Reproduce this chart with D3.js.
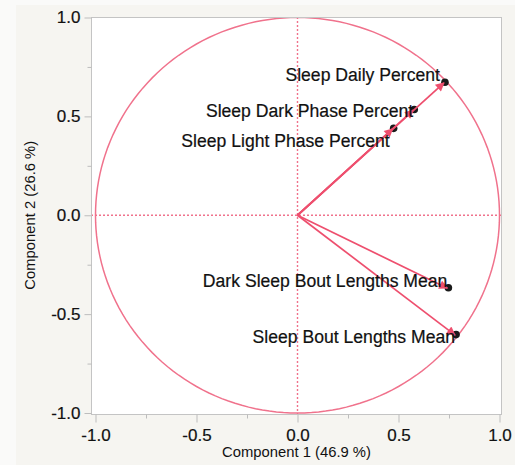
<!DOCTYPE html>
<html>
<head>
<meta charset="utf-8">
<script src="https://cdn.jsdelivr.net/npm/d3@7"></script>
<style>
  html, body { margin: 0; padding: 0; background: #f6f5f1; }
  svg { display: block; }
</style>
</head>
<body>
<script>
// Loading-plot data: variable names and their loadings on components 1 and 2
const variables = [
  "Sleep Daily Percent",
  "Sleep Dark Phase Percent",
  "Sleep Light Phase Percent",
  "Dark Sleep Bout Lengths Mean",
  "Sleep Bout Lengths Mean"
];
const comp1 = [0.725, 0.573, 0.471, 0.742, 0.780];
const comp2 = [0.670, 0.532, 0.437, -0.369, -0.606];

const majorTicks = [-1.0, -0.5, 0.0, 0.5, 1.0];
const minorTicks = [-0.75, -0.25, 0.25, 0.75];
const xTitle = "Component 1  (46.9 %)";
const yTitle = "Component 2  (26.6 %)";

// label anchor offsets (px) from each point: text end / baseline
const labelOffsets = [[-4, -2], [0, 7], [-3, 18], [0, -1.5], [0, 8]];

const W = 515, H = 465;
const frame = { left: 91, right: 501, top: 17, bottom: 414 };
const x = d3.scaleLinear().domain([-1, 1]).range([95.5, 499.5]);
const y = d3.scaleLinear().domain([-1, 1]).range([413, 17.5]);

const RED = "#ee4f6e";
const PINK = "#f0728c";
const FONT = "'Liberation Sans', Arial, Helvetica, sans-serif";
const fmt = d => d.toFixed(1);

const svg = d3.select("body").append("svg").attr("width", W).attr("height", H);

// page panels
svg.append("rect").attr("width", W).attr("height", H).attr("fill", "#f6f5f1");
svg.append("rect").attr("width", 16).attr("height", H).attr("fill", "#fafaf9");
svg.append("rect").attr("x", 16).attr("width", W - 16).attr("height", 5).attr("fill", "#fafaf9");

// plot frame
svg.append("rect")
  .attr("x", frame.left + 0.5).attr("y", frame.top + 0.5)
  .attr("width", frame.right - frame.left).attr("height", frame.bottom - frame.top)
  .attr("fill", "#ffffff").attr("stroke", "#c4c4c4").attr("stroke-width", 1);

svg.append("clipPath").attr("id", "plotclip").append("rect")
  .attr("x", frame.left + 1).attr("y", frame.top + 1)
  .attr("width", frame.right - frame.left - 1).attr("height", frame.bottom - frame.top - 1);

// axes
const xAxis = svg.append("g").attr("transform", `translate(0,${frame.bottom + 0.5})`)
  .call(d3.axisBottom(x).tickValues(majorTicks).tickFormat(fmt).tickSize(8).tickPadding(4));
const xMinor = svg.append("g").attr("transform", `translate(0,${frame.bottom + 0.5})`)
  .call(d3.axisBottom(x).tickValues(minorTicks).tickFormat("").tickSize(4));
const yAxis = svg.append("g").attr("transform", `translate(${frame.left + 0.5},0)`)
  .call(d3.axisLeft(y).tickValues(majorTicks).tickFormat(fmt).tickSize(7).tickPadding(4));
const yMinor = svg.append("g").attr("transform", `translate(${frame.left + 0.5},0)`)
  .call(d3.axisLeft(y).tickValues(minorTicks).tickFormat("").tickSize(4));

[xAxis, xMinor, yAxis, yMinor].forEach(g => {
  g.select(".domain").remove();
  g.selectAll(".tick line").attr("stroke", "#bdbdbd");
  g.selectAll("text").attr("fill", "#111").style("font-family", FONT).style("font-size", "17px")
    .attr("stroke", "#111").attr("stroke-width", 0.2);
});
xAxis.selectAll("text").attr("dy", "0.88em");

// axis titles
svg.append("text").attr("x", x(0) - 1).attr("y", 457).attr("text-anchor", "middle")
  .style("font-family", FONT).style("font-size", "14.8px").attr("fill", "#111").text(xTitle);
svg.append("text").attr("transform", `translate(35,${y(0)}) rotate(-90)`).attr("text-anchor", "middle")
  .style("font-family", FONT).style("font-size", "14.8px").attr("fill", "#111").text(yTitle);

const plot = svg.append("g").attr("clip-path", "url(#plotclip)");

// reference lines through the origin
plot.append("line").attr("x1", x(0)).attr("x2", x(0)).attr("y1", frame.top).attr("y2", frame.bottom)
  .attr("stroke", PINK).attr("stroke-width", 1.4).attr("stroke-dasharray", "2,2");
plot.append("line").attr("x1", frame.left).attr("x2", frame.right).attr("y1", y(0)).attr("y2", y(0))
  .attr("stroke", PINK).attr("stroke-width", 1.4).attr("stroke-dasharray", "2,2");

// unit circle
const circlePts = d3.range(0, 361, 2).map(a => [Math.cos(a * Math.PI / 180), Math.sin(a * Math.PI / 180)]);
plot.append("path")
  .attr("d", d3.line().x(d => x(d[0])).y(d => y(d[1]))(circlePts))
  .attr("fill", "none").attr("stroke", PINK).attr("stroke-width", 1.5);

// arrowhead marker
svg.append("defs").append("marker")
  .attr("id", "arrow").attr("viewBox", "0 0 10 10").attr("refX", 9).attr("refY", 5)
  .attr("markerWidth", 11).attr("markerHeight", 9).attr("markerUnits", "userSpaceOnUse")
  .attr("orient", "auto")
  .append("path").attr("d", "M0,0 L10,5 L0,10 Z").attr("fill", RED);

const data = variables.map((name, i) => ({ name, c1: comp1[i], c2: comp2[i], off: labelOffsets[i] }));

// points
plot.selectAll("circle.pt").data(data).join("circle").attr("class", "pt")
  .attr("cx", d => x(d.c1) + 1).attr("cy", d => y(d.c2) - 0.5).attr("r", 3.8).attr("fill", "#1a1a1a");

// loading vectors
plot.selectAll("line.vec").data(data).join("line").attr("class", "vec")
  .attr("x1", x(0)).attr("y1", y(0))
  .attr("x2", d => x(d.c1)).attr("y2", d => y(d.c2))
  .attr("stroke", RED).attr("stroke-width", 1.7)
  .attr("marker-end", "url(#arrow)");

// labels
plot.selectAll("text.lbl").data(data).join("text").attr("class", "lbl")
  .attr("x", d => x(d.c1) + d.off[0]).attr("y", d => y(d.c2) + d.off[1])
  .attr("text-anchor", "end")
  .style("font-family", FONT).style("font-size", "17.6px").attr("fill", "#111")
  .attr("stroke", "#111").attr("stroke-width", 0.2)
  .text(d => d.name);
</script>
</body>
</html>
